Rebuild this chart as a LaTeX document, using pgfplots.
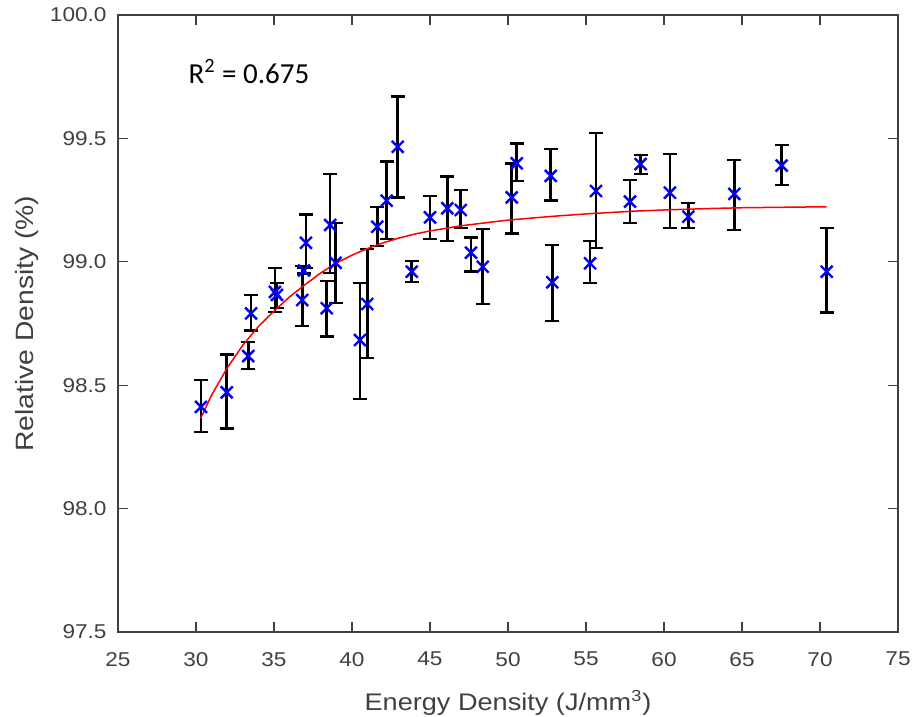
\documentclass[border=0pt]{standalone}
\usepackage{fontspec}
\setmainfont{Liberation Sans}
\newfontfamily\axfont[FakeStretch=1.13]{Liberation Sans}
\newfontfamily\calfont{Carlito}
\usepackage{pgfplots}
\usepackage{pgfplotstable}
\pgfplotsset{compat=1.18}
\definecolor{axgray}{RGB}{64,64,64}

% measured points: x, y, top of bar, bottom of bar
\pgfplotstableread{
x     y      top    bot
30.32 98.412 98.521 98.310
31.97 98.471 98.625 98.325
33.35 98.618 98.676 98.566
33.53 98.791 98.865 98.721
35.06 98.878 98.974 98.797
35.19 98.866 98.915 98.813
36.81 98.845 98.983 98.740
37.05 99.077 99.192 98.976
36.92 98.965 98.977 98.953
38.38 98.812 98.923 98.697
38.60 99.149 99.356 98.955
38.95 98.996 99.156 98.832
40.51 98.683 98.915 98.443
40.98 98.829 99.051 98.611
41.62 99.142 99.223 99.065
42.22 99.248 99.406 99.092
42.93 99.466 99.669 99.261
43.83 98.960 99.004 98.917
45.00 99.180 99.267 99.092
46.11 99.217 99.345 99.084
46.97 99.210 99.291 99.136
47.63 99.037 99.098 98.960
48.38 98.980 99.133 98.829
50.24 99.261 99.399 99.115
50.56 99.399 99.480 99.327
52.74 99.348 99.456 99.248
52.84 98.917 99.068 98.761
55.26 98.994 99.084 98.915
55.64 99.287 99.521 99.057
57.82 99.244 99.331 99.156
58.50 99.396 99.433 99.356
60.38 99.280 99.436 99.136
61.56 99.183 99.238 99.136
64.51 99.275 99.412 99.129
67.54 99.390 99.473 99.311
70.43 98.960 99.136 98.794
}\measured

% fitted curve
\pgfplotstableread{
x     y
30.30 98.366
31.00 98.460
32.00 98.570
33.00 98.662
34.00 98.738
35.00 98.800
36.00 98.858
37.00 98.908
38.00 98.955
39.00 98.995
40.00 99.027
41.00 99.054
42.00 99.077
43.00 99.096
44.00 99.112
45.00 99.125
47.00 99.146
50.00 99.169
53.00 99.185
55.00 99.194
58.00 99.205
60.00 99.210
63.00 99.216
65.00 99.219
70.43 99.223
}\fitcurve

\begin{document}
\begin{tikzpicture}
\begin{axis}[
    name=ax,
    scale only axis,
    width=390pt, height=308.5pt,
    xmin=25, xmax=75, ymin=97.5, ymax=100,
    xtick={25,30,...,75},
    ytick={97.5,98,98.5,99,99.5,100},
    tick align=inside,
    major tick length=5pt,
    axis line style={axgray, line width=0.65pt},
    every tick/.style={axgray, line width=0.65pt},
    /pgf/number format/assume math mode=true,
    tick label style={font=\axfont\fontsize{10}{12}\selectfont, text=axgray},
    yticklabel style={/pgf/number format/fixed, /pgf/number format/fixed zerofill,
        /pgf/number format/precision=1, xshift=-2.2pt},
    xticklabel style={yshift=-6.5pt},
    xlabel={Energy Density (J/mm\textsuperscript{3})},
    ylabel={Relative Density (\%)},
    label style={font=\axfont\fontsize{12}{14}\selectfont, text=axgray},
    xlabel style={at={(axis description cs:0.5,0)}, anchor=base, yshift=-39.3pt},
    ylabel style={at={([xshift=-42.3pt]axis description cs:0,0.5)}, anchor=base,
        font=\axfont\fontsize{12.5}{14}\selectfont},
]
\addplot[draw=none, mark=none, line width=1.3pt,
    error bars/.cd, y dir=both, y explicit,
    error bar style={draw=black, line width=1.3pt},
    error mark options={draw=black, rotate=90, mark size=3.5pt, line width=1.2pt}]
  table[x=x, y=y, y error plus expr=\thisrow{top}-\thisrow{y},
        y error minus expr=\thisrow{y}-\thisrow{bot}] {\measured};
\addplot[only marks, mark=x, mark size=4.2pt, color=blue, line width=1.2pt]
  table[x=x, y=y] {\measured};
\addplot[red, line width=0.75pt, mark=none] table[x=x, y=y] {\fitcurve};
\node[anchor=base west, font=\calfont\fontsize{14.5}{16}\selectfont, text=black, inner sep=0pt]
  at (axis cs:29.5,99.724) {R\textsuperscript{2} = 0.675};
\end{axis}
\pgfresetboundingbox
\path ([shift={(-59pt,-42.5pt)}]ax.south west) rectangle ([shift={(8.5pt,7.5pt)}]ax.north east);
\end{tikzpicture}
\end{document}
